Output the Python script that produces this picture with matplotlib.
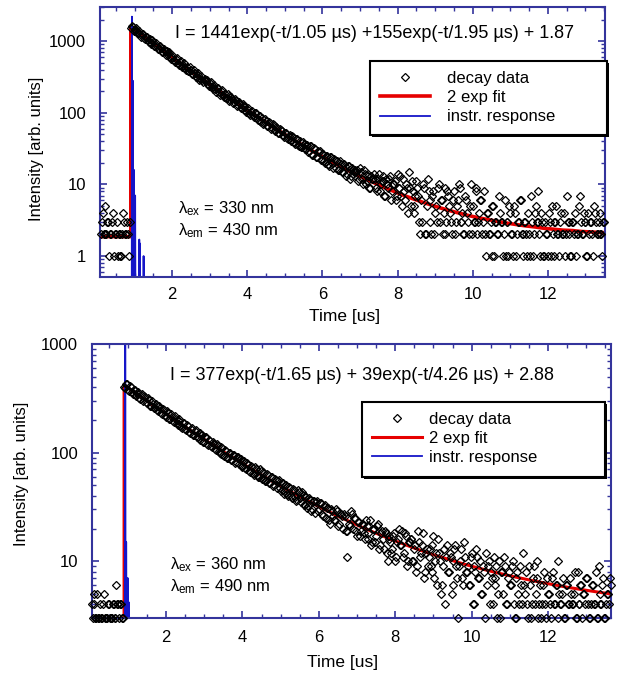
import numpy as np
import matplotlib.pyplot as plt
import matplotlib.ticker as mticker
from matplotlib.patches import Rectangle

plt.rcParams['font.family'] = ['Liberation Sans', 'DejaVu Sans']
plt.rcParams['mathtext.fontset'] = 'custom'
plt.rcParams['mathtext.rm'] = 'Liberation Sans'
plt.rcParams['mathtext.it'] = 'Liberation Sans:italic'

# ---- top panel: lambda_ex 330 nm / lambda_em 430 nm ----
# photon counts, even channels: every 0.05 us starting at 0.100 us
counts_top_a = [
    2, 4, 5, 2, 3, 2, 3, 1, 2, 1, 2, 1, 4, 2, 3, 1,
    1520, 1560, 1430, 1410, 1290, 1240, 1250, 1120, 1150, 1030,
    1060, 940, 960, 850, 870, 790, 800, 710, 730, 660,
    680, 600, 610, 545, 560, 500, 520, 455, 470, 420,
    430, 385, 395, 350, 360, 320, 335, 300, 285, 290,
    280, 250, 262, 228, 236, 214, 220, 195, 200, 178,
    185, 162, 170, 150, 156, 140, 146, 128, 132, 117,
    122, 108, 113, 99, 104, 92, 98, 85, 90, 78,
    84, 72, 77, 66, 71, 62, 68, 57, 61, 52,
    57, 49, 53, 44, 48, 42, 47, 39, 43, 36,
    40, 33, 37, 31, 35, 29, 34, 26, 31, 24,
    28, 22, 27, 21, 25, 19, 24, 20, 23, 17,
    21, 16, 19, 15, 18, 14, 18, 13, 16, 15,
    15, 11, 17, 12, 16, 10, 14, 9, 13, 12,
    12, 8, 14, 10, 11, 7, 12, 9, 13, 8,
    10, 6, 14, 9, 7, 12, 6, 9, 15, 5,
    8, 5, 11, 7, 2, 3, 9, 2, 12, 6,
    2, 8, 4, 3, 10, 6, 2, 9, 3, 7,
    4, 2, 8, 3, 6, 9, 3, 2, 7, 4,
    2, 10, 5, 3, 9, 3, 6, 2, 8, 1,
    4, 2, 1, 5, 3, 2, 7, 3, 1, 6,
    3, 1, 4, 2, 5, 1, 3, 6, 2, 1,
    3, 1, 2, 7, 1, 4, 3, 8, 1, 3,
    1, 2, 1, 3, 5, 1, 3, 2, 1, 4,
    2, 1, 7, 3, 1, 3, 2, 1, 2, 7,
    2, 4, 3, 1, 2, 3, 1, 4, 2, 3,
    2, 1, 3,
]
# odd channels: every 0.05 us starting at 0.125 us
counts_top_b = [
    3, 2, 2, 3, 1, 2, 4, 2, 3, 2, 1, 2, 3, 2, 2, 3,
    1650, 1400, 1510, 1290, 1370, 1160, 1260, 1060, 1150, 980,
    920, 1040, 850, 940, 780, 860, 700, 790, 650, 720,
    700, 570, 630, 520, 580, 470, 530, 440, 490, 400,
    380, 430, 345, 390, 320, 360, 290, 330, 270, 300,
    290, 235, 265, 215, 245, 195, 225, 180, 205, 168,
    160, 182, 148, 168, 135, 155, 125, 142, 116, 132,
    126, 101, 116, 94, 106, 86, 98, 80, 91, 74,
    70, 81, 65, 74, 60, 69, 56, 64, 52, 59,
    56, 46, 53, 43, 49, 40, 46, 37, 43, 34,
    33, 39, 31, 36, 28, 34, 26, 32, 24, 29,
    29, 22, 27, 20, 25, 18, 24, 17, 22, 21,
    16, 21, 15, 19, 13, 18, 12, 17, 14, 16,
    16, 12, 15, 10, 14, 11, 13, 9, 12, 14,
    9, 12, 8, 11, 13, 7, 10, 12, 6, 10,
    11, 7, 9, 13, 5, 8, 10, 4, 9, 11,
    4, 7, 9, 3, 6, 10, 2, 5, 8, 3,
    7, 2, 5, 9, 3, 6, 4, 2, 8, 5,
    3, 6, 2, 5, 10, 3, 4, 2, 6, 3,
    5, 2, 3, 8, 2, 4, 6, 3, 2, 4,
    2, 3, 5, 1, 3, 2, 4, 3, 2, 1,
    3, 5, 2, 1, 4, 2, 3, 6, 2, 3,
    2, 4, 1, 3, 2, 5, 3, 2, 4, 1,
    3, 2, 4, 1, 2, 3, 5, 2, 3, 2,
    4, 2, 3, 2, 1, 3, 4, 2, 5, 3,
    2, 3, 1, 4, 3, 2, 5, 3, 2, 4,
    2, 3,
]
# fitted curve read every 0.25 us after the rise at 0.9 us
fit_time_top = np.r_[0.1, 0.9, 0.9 + 0.25 * np.arange(51), 13.5]
fit_top = [
    1.87, 1.87,
    1598, 1274, 1017, 813, 651, 522, 419, 337, 272, 220,
    178, 145, 118, 96.4, 79.1, 65.1, 53.7, 44.5, 37.1, 31.1,
    26.1, 22.1, 18.8, 16.0, 13.8, 11.9, 10.4, 9.06, 8.0, 7.08,
    6.33, 5.69, 5.15, 4.68, 4.29, 3.96, 3.67, 3.43, 3.23, 3.05,
    2.89, 2.76, 2.64, 2.55, 2.44, 2.37, 2.30, 2.27, 2.20, 2.17,
    2.13, 2.12,
]
irf_time_top = [0.88, 0.925, 0.93, 0.94, 0.95, 0.955, 0.965, 0.975, 0.98, 0.99, 1.01,
                1.015, 1.025, 1.12, 1.125, 1.135, 1.14, 1.15, 1.235, 1.24, 1.25]
irf_top = [0.1, 0.1, 2200, 0.1, 0.1, 280, 0.1, 0.1, 16, 0.1, 0.1,
           7, 0.1, 0.1, 1.7, 0.1, 1.5, 0.1, 0.1, 1.0, 0.1]

# ---- bottom panel: lambda_ex 360 nm / lambda_em 490 nm ----
# even channels: every 0.05 us starting at 0.050 us
counts_bot_a = [
    4, 5, 3, 5, 3, 3, 4, 3, 3, 4, 3, 4, 3, 6, 4, 4, 3,
    400, 425, 380, 410, 360, 375, 340, 352, 318, 336,
    300, 322, 285, 305, 270, 282, 255, 268, 240, 258,
    228, 245, 215, 232, 205, 215, 192, 205, 180, 195,
    172, 188, 165, 178, 155, 165, 146, 158, 138, 150,
    130, 145, 125, 138, 118, 128, 112, 121, 105, 116,
    100, 112, 95, 106, 90, 99, 86, 95, 81, 92,
    78, 88, 74, 84, 70, 77, 66, 74, 62, 71,
    60, 70, 57, 66, 55, 63, 52, 59, 49, 57,
    47, 56, 44, 53, 42, 50, 40, 47, 38, 45,
    36, 45, 38, 43, 33, 40, 31, 38, 29, 36,
    28, 36, 30, 34, 26, 33, 25, 31, 22, 29,
    24, 30, 21, 28, 26, 27, 19, 11, 22, 29,
    20, 25, 17, 23, 19, 22, 16, 21, 18, 24,
    15, 20, 17, 22, 14, 19, 13, 18, 10, 16,
    12, 17, 10, 15, 20, 14, 11, 18, 9, 15,
    16, 10, 13, 8, 19, 11, 14, 7, 12, 9,
    13, 8, 17, 10, 6, 12, 5, 9, 4, 14,
    8, 11, 6, 13, 9, 3, 10, 7, 15, 8,
    9, 6, 12, 4, 8, 11, 7, 5, 9, 3,
    6, 10, 8, 4, 7, 9, 5, 3, 8, 11,
    4, 7, 6, 9, 4, 3, 8, 4, 6, 12,
    5, 4, 9, 3, 7, 4, 10, 3, 6, 4,
    8, 3, 5, 4, 7, 4, 6, 3, 5, 4,
    7, 3, 6, 4, 5, 4, 8, 3, 4, 6,
    3, 5, 7, 4, 3, 6, 4, 8, 3, 5,
    4, 7, 3, 5, 4, 6,
]
# odd channels: every 0.05 us starting at 0.075 us
counts_bot_b = [
    3, 4, 3, 3, 4, 3, 5, 3, 4, 3, 3, 4, 3, 4, 3, 4, 3,
    390, 425, 370, 400, 350, 380, 330, 365, 310, 345,
    330, 290, 315, 270, 298, 258, 282, 245, 268, 232,
    252, 220, 240, 206, 228, 196, 216, 188, 205, 178,
    168, 188, 160, 176, 152, 168, 145, 160, 138, 152,
    146, 126, 138, 120, 131, 114, 125, 108, 119, 103,
    98, 111, 94, 104, 90, 100, 86, 96, 82, 91,
    88, 76, 84, 72, 80, 68, 76, 65, 73, 62,
    60, 68, 57, 65, 55, 62, 52, 59, 50, 56,
    55, 47, 52, 44, 50, 42, 48, 40, 46, 39,
    37, 43, 35, 41, 33, 39, 32, 37, 30, 36,
    35, 29, 34, 27, 32, 25, 31, 24, 30, 26,
    24, 29, 22, 27, 20, 26, 19, 25, 21, 27,
    25, 19, 23, 17, 22, 18, 24, 16, 21, 14,
    20, 15, 21, 13, 18, 16, 19, 12, 17, 15,
    13, 18, 11, 16, 14, 19, 12, 17, 10, 15,
    16, 10, 14, 9, 15, 12, 18, 8, 13, 11,
    9, 14, 7, 12, 16, 10, 6, 13, 11, 8,
    12, 5, 10, 14, 7, 9, 13, 6, 11, 8,
    6, 11, 4, 9, 13, 7, 10, 5, 8, 12,
    9, 4, 7, 11, 6, 3, 10, 8, 5, 9,
    4, 8, 6, 10, 3, 7, 5, 9, 4, 6,
    8, 3, 6, 4, 9, 5, 7, 4, 3, 6,
    4, 7, 5, 3, 8, 4, 6, 10, 4, 5,
    3, 6, 4, 7, 4, 5, 3, 8, 4, 6,
    5, 4, 7, 3, 4, 6, 4, 3, 9, 4,
    6, 3, 4, 5, 7,
]
fit_time_bot = np.r_[0.05, 0.9, 0.9 + 0.25 * np.arange(52)]
fit_bot = [
    2.88, 2.88,
    418.9, 363.7, 316.0, 274.9, 239.4, 208.7, 182.2, 159.3, 139.5, 122.3,
    107.5, 94.5, 83.4, 73.7, 65.2, 57.9, 51.5, 46.0, 41.1, 36.9,
    33.2, 29.9, 27.1, 24.6, 22.4, 20.4, 18.7, 17.2, 15.8, 14.7,
    13.6, 12.65, 11.8, 11.04, 10.4, 9.75, 9.2, 8.71, 8.26, 7.85,
    7.49, 7.15, 6.85, 6.56, 6.31, 6.07, 5.85, 5.65, 5.47, 5.30,
    5.14, 5.0,
]
irf_time_bot = [0.88, 0.925, 0.93, 0.94, 0.95, 0.955, 0.965, 0.99, 0.995, 1.005, 1.015, 1.02, 1.03]
irf_bot = [1, 1, 1500, 1, 1, 15, 1, 1, 7, 1, 1, 4.2, 1]

time_top = np.r_[0.100 + 0.05 * np.arange(len(counts_top_a)),
                 0.125 + 0.05 * np.arange(len(counts_top_b))]
counts_top = np.r_[counts_top_a, counts_top_b]
time_bot = np.r_[0.050 + 0.05 * np.arange(len(counts_bot_a)),
                 0.075 + 0.05 * np.arange(len(counts_bot_b))]
counts_bot = np.r_[counts_bot_a, counts_bot_b]

formula_top = 'I = 1441exp(-t/1.05 µs) +155exp(-t/1.95 µs) + 1.87'
formula_bot = 'I = 377exp(-t/1.65 µs) + 39exp(-t/4.26 µs) + 2.88'
labels = ['decay data', '2 exp fit', 'instr. response']

W, H = 618, 675
spine_col = '#34349c'


def fx(px):
    return px / W


def fy(py):
    return 1 - py / H


def style(ax, xlim, ylim):
    ax.set_yscale('log')
    ax.set_xlim(*xlim)
    ax.set_ylim(*ylim)
    ax.xaxis.set_major_locator(mticker.MultipleLocator(2))
    ax.xaxis.set_minor_locator(mticker.MultipleLocator(0.5))
    ax.yaxis.set_major_locator(mticker.LogLocator(base=10))
    ax.yaxis.set_minor_locator(mticker.LogLocator(base=10, subs=np.arange(2, 10)))
    ax.yaxis.set_major_formatter(mticker.FuncFormatter(lambda v, p: f'{v:g}'))
    ax.yaxis.set_minor_formatter(mticker.NullFormatter())
    for s in ax.spines.values():
        s.set_color(spine_col)
        s.set_linewidth(1.5)
    ax.tick_params(which='both', direction='in', top=True, right=True,
                   color=spine_col, labelsize=12)
    ax.tick_params(which='major', length=5, width=1.2)
    ax.tick_params(which='minor', length=3, width=1.0)
    ax.tick_params(axis='y', pad=10)


def legend_box(handles, left, top, right, bottom, textpad):
    shadow = Rectangle((fx(left) + 2 / W, fy(bottom) - 2 / H), fx(right) - fx(left),
                       fy(top) - fy(bottom), transform=fig.transFigure,
                       facecolor='black', edgecolor='none', zorder=2.9)
    box = Rectangle((fx(left), fy(bottom)), fx(right) - fx(left), fy(top) - fy(bottom),
                    transform=fig.transFigure, facecolor='white', edgecolor='black',
                    lw=1.5, zorder=3)
    fig.add_artist(shadow)
    fig.add_artist(box)
    fig.legend(handles, labels, loc='upper left', bbox_to_anchor=(fx(left), fy(top)),
               frameon=False, fontsize=12, handlelength=3.0, handletextpad=textpad,
               labelspacing=0.25, borderpad=0.6, borderaxespad=0, numpoints=1)


fig = plt.figure(figsize=(6.18, 6.75), dpi=100)
ax1 = fig.add_axes([fx(100), fy(277), fx(605) - fx(100), fy(7) - fy(277)])
ax2 = fig.add_axes([fx(92), fy(618), fx(611) - fx(92), fy(344) - fy(618)])

# top
f1, = ax1.plot(fit_time_top, fit_top, color='#e60000', lw=2.6, zorder=2)
i1, = ax1.plot(irf_time_top, irf_top, color='#1515c8', lw=1.3, zorder=2.5)
d1, = ax1.plot(time_top, counts_top, ls='none', marker='D', ms=3.8, mfc='none',
               mec='black', mew=0.9, clip_on=False, zorder=3)
style(ax1, (0.08, 13.52), (0.51, 3000))
ax1.tick_params(axis='x', pad=7)

# bottom
f2, = ax2.plot(fit_time_bot, fit_bot, color='#e60000', lw=2.2, zorder=2)
i2, = ax2.plot(irf_time_bot, irf_bot, color='#1515c8', lw=1.3, zorder=2.5)
d2, = ax2.plot(time_bot, counts_bot, ls='none', marker='D', ms=3.8, mfc='none',
               mec='black', mew=0.9, clip_on=False, zorder=3)
style(ax2, (0.06, 13.65), (3, 1000))
ax2.tick_params(axis='x', pad=9)

legend_box([d1, f1, i1], 370, 61, 607, 135, 1.0)
legend_box([d2, f2, i2], 362, 402, 605, 477, 0.4)

# annotations
fig.text(fx(175), fy(33), formula_top, fontsize=13, va='center', ha='left')
fig.text(fx(170), fy(375), formula_bot, fontsize=13, va='center', ha='left')
fig.text(fx(178), fy(209), r'$\mathrm{λ_{ex}}$ = 330 nm', fontsize=12, va='center')
fig.text(fx(178), fy(231), r'$\mathrm{λ_{em}}$ = 430 nm', fontsize=12, va='center')
fig.text(fx(170), fy(565), r'$\mathrm{λ_{ex}}$ = 360 nm', fontsize=12, va='center')
fig.text(fx(170), fy(587), r'$\mathrm{λ_{em}}$ = 490 nm', fontsize=12, va='center')

fig.text(fx(37), fy(149), 'Intensity [arb. units]', rotation=90, fontsize=12,
         ha='center', va='center')
fig.text(fx(22), fy(474), 'Intensity [arb. units]', rotation=90, fontsize=12,
         ha='center', va='center')
fig.text(fx(345), fy(317), 'Time [us]', fontsize=12.5, ha='center', va='center')
fig.text(fx(343), fy(663), 'Time [us]', fontsize=12.5, ha='center', va='center')

fig.savefig('out.png', dpi=100)
